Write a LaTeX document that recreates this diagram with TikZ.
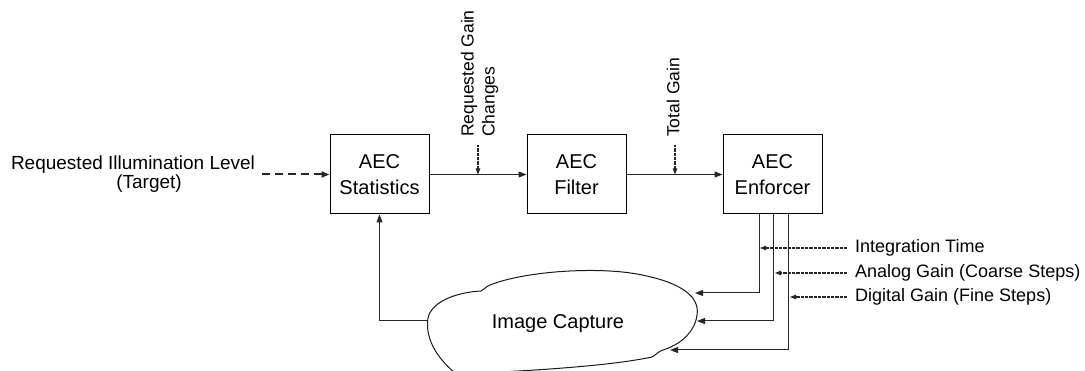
\documentclass[tikz,border=0pt]{standalone}
\usepackage{fontspec}
\setmainfont{Liberation Sans}
\usetikzlibrary{arrows.meta}
\begin{document}
\begin{tikzpicture}[x=1pt,y=-1pt,
  every node/.style={font=\fontsize{18}{21}\selectfont},
  blk/.style={draw, line width=1pt, minimum width=99pt, minimum height=79pt, align=center, font=\fontsize{20}{26}\selectfont},
  conn/.style={line width=1pt, black!85, -{Triangle[length=8pt,width=6pt]}},
  dotarr/.style={line width=1.1pt, black!85, dash pattern=on 0.8pt off 0.5pt, -{Triangle[length=6pt,width=4.5pt]}},
  lbl/.style={inner sep=0pt, align=left}]
\useasboundingbox (0,0) rectangle (1085,371);
% blocks
\node[blk] (stat) at (379.5,174.5) {AEC\\Statistics};
\node[blk] (filt) at (576.5,174.5) {AEC\\Filter};
\node[blk] (enf) at (772.5,174.5) {AEC\\Enforcer};
% input
\node[lbl, align=center, font=\fontsize{19}{19}\selectfont] (inp) at (133,174) {Requested Illumination Level\\\hspace*{32pt}(Target)};
\coordinate (tin) at (262,174.5);
\draw[conn, dash pattern=on 8pt off 5pt, line width=2pt] (tin) -- (stat.west);
% main path
\draw[conn] (stat.east) -- (filt.west);
\draw[conn] (filt.east) -- (enf.west);
% rotated labels
\node[lbl, rotate=90, anchor=west, font=\fontsize{17.5}{21}\selectfont] (rgc) at (479.5,137) {Requested Gain\\Changes};
\node[lbl, rotate=90, anchor=west, font=\fontsize{17.5}{21}\selectfont] (tgl) at (673,137) {Total Gain};
\coordinate (rg1) at (478,145);
\coordinate (rg2) at (478,174.5);
\coordinate (tg1) at (675,145);
\coordinate (tg2) at (675,174.5);
\draw[dotarr] (rg1) -- (rg2);
\draw[dotarr] (tg1) -- (tg2);
% cloud
\draw[line width=1pt, black!90] (455,373)
  .. controls (436,357) and (425,338) .. (428,318)
  .. controls (432,300) and (460,292) .. (481,291)
  .. controls (484,290) and (485,287) .. (490,285)
  .. controls (525,271) and (600,266) .. (642,275)
  .. controls (682,283) and (700,297) .. (697,315)
  .. controls (695,331) and (682,344) .. (663,350)
  .. controls (659,351) and (657,354) .. (652,357)
  .. controls (600,368) and (500,372) .. (460,374);
\node[font=\fontsize{20}{24}\selectfont] (cap) at (558,324) {Image Capture};
\coordinate (cl) at (427,321);
\coordinate (c1) at (695,293);
\coordinate (c2) at (697,321);
\coordinate (c3) at (670,350);
% feedback
\draw[conn] (cl) -| (stat.south);
% enforcer outputs
\draw[conn] ([xshift=-13.5pt]enf.south) |- (c1);
\draw[conn] ([xshift=0.5pt]enf.south) |- (c2);
\draw[conn] ([xshift=15.5pt]enf.south) |- (c3);
% control inputs
\node[lbl, anchor=west] (it) at (855,248) {Integration Time};
\node[lbl, anchor=west] (ag) at (855,273) {Analog Gain (Coarse Steps)};
\node[lbl, anchor=west] (dg) at (855,297) {Digital Gain (Fine Steps)};
\coordinate (it2) at (760,248);
\coordinate (ag2) at (775,273);
\coordinate (dg2) at (790,297);
\draw[dotarr] ([xshift=-8pt]it.west) -- (it2);
\draw[dotarr] ([xshift=-8pt]ag.west) -- (ag2);
\draw[dotarr] ([xshift=-8pt]dg.west) -- (dg2);
\end{tikzpicture}
\end{document}
